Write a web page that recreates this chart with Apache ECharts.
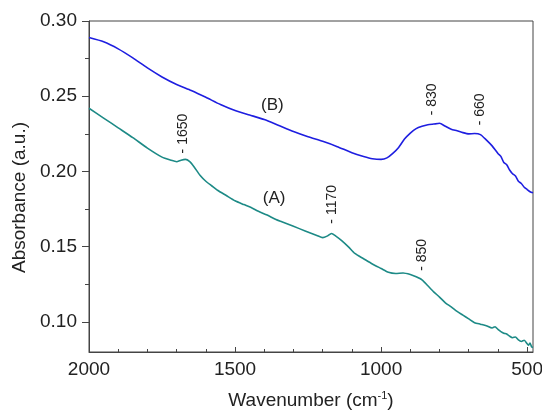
<!DOCTYPE html>
<html>
<head>
<meta charset="utf-8">
<script src="https://cdn.jsdelivr.net/npm/echarts@6/dist/echarts.min.js"></script>
<style>
  html, body { margin: 0; padding: 0; background: #fff; }
  #chart { width: 542px; height: 414px; }
</style>
</head>
<body>
<div id="chart"></div>
<script>
// spectrum (B)
var waveB = [2000, 1950, 1900, 1850, 1800, 1750, 1700, 1650, 1600, 1550, 1500, 1450, 1400, 1350, 1300,
  1250, 1200, 1150, 1100, 1060, 1030, 1000, 980, 960, 940, 920, 900, 880, 860, 840, 820, 800, 780,
  760, 740, 720, 700, 680, 660, 640, 620, 600, 590, 580, 570, 560, 550, 540, 530, 520, 510, 500, 490, 480]
var absB = [0.289, 0.2862, 0.2815, 0.2755, 0.2688, 0.2628, 0.2578, 0.2538, 0.2493, 0.2445, 0.2405, 0.2375, 0.2345, 0.2305, 0.2265,
  0.223, 0.220, 0.2165, 0.2125, 0.210, 0.2085, 0.208, 0.209, 0.212, 0.216, 0.2215, 0.2255, 0.2285, 0.230, 0.231, 0.2315, 0.232, 0.230,
  0.228, 0.227, 0.2258, 0.225, 0.2252, 0.2245, 0.221, 0.217, 0.212, 0.210, 0.206, 0.2045, 0.201, 0.1985, 0.197, 0.1935, 0.192, 0.1895, 0.188, 0.1865, 0.1858]

// spectrum (A)
var waveA = [2000, 1950, 1900, 1850, 1800, 1750, 1720, 1700, 1685, 1670, 1655, 1640, 1620, 1600, 1580, 1560, 1530,
  1500, 1470, 1445, 1420, 1390, 1360, 1340, 1300, 1260, 1220, 1200, 1185, 1170, 1155, 1135, 1110, 1090, 1060,
  1030, 1000, 975, 950, 925, 900, 880, 860, 840, 820, 800, 780, 760, 740, 720, 700, 680, 660, 640, 620, 610,
  600, 590, 580, 570, 560, 550, 540, 530, 520, 510, 500, 495, 490, 485, 480]
var absA = [0.242, 0.2355, 0.229, 0.2225, 0.2155, 0.2095, 0.2075, 0.2065, 0.2075, 0.208, 0.2065, 0.203, 0.1975, 0.1935, 0.1905, 0.1875, 0.184,
  0.1805, 0.178, 0.176, 0.1735, 0.171, 0.168, 0.1665, 0.1635, 0.1605, 0.1575, 0.156, 0.157, 0.1588, 0.157, 0.154, 0.1495, 0.1455, 0.142,
  0.1385, 0.1355, 0.133, 0.1322, 0.1325, 0.1315, 0.130, 0.128, 0.124, 0.120, 0.1165, 0.1127, 0.110, 0.107, 0.1045, 0.102, 0.0995, 0.0985, 0.0975, 0.096, 0.0968,
  0.095, 0.0935, 0.0925, 0.092, 0.0905, 0.0895, 0.090, 0.088, 0.087, 0.0878, 0.0855, 0.0845, 0.086, 0.0835, 0.083]

// peak annotations
var peakText = ['- 1650', '- 1170', '- 850', '- 830', '- 660']
var peakWave = [1679, 1169, 859, 824, 662]
var peakAbs = [0.212, 0.1653, 0.134, 0.2373, 0.2307]
var peakSeries = [0, 0, 0, 1, 1]

// curve names
var curveText = ['(A)', '(B)']
var curveWave = [1366, 1372]
var curveAbs = [0.182, 0.244]

var xLabels = [500, 1000, 1500, 2000]
var xMinor = [600, 700, 800, 900, 1100, 1200, 1300, 1400, 1600, 1700, 1800, 1900]
var yLabels = [0.10, 0.15, 0.20, 0.25, 0.30]
var yMinor = [0.125, 0.175, 0.225, 0.275]

function pairs(xs, ys) {
  return xs.map(function (x, i) { return [x, ys[i]] })
}

function marks(s) {
  var out = []
  peakText.forEach(function (t, i) {
    if (peakSeries[i] !== s) return
    out.push({
      coord: [peakWave[i], peakAbs[i]],
      label: { formatter: t, rotate: 90, align: 'left', verticalAlign: 'middle', fontSize: 14 }
    })
  })
  out.push({
    coord: [curveWave[s], curveAbs[s]],
    label: { formatter: curveText[s], rotate: 0, align: 'center', verticalAlign: 'middle', fontSize: 17 }
  })
  return out
}

var font = 'Liberation Sans, Arial, sans-serif'
var axisColor = '#444'

var chart = echarts.init(document.getElementById('chart'), null, { renderer: 'canvas' })

var xBase = {
  type: 'value', inverse: true, min: 480, max: 2000, gridIndex: 0, position: 'bottom',
  splitLine: { show: false }
}
var yBase = {
  type: 'value', min: 0.08, max: 0.30, gridIndex: 0, position: 'left',
  splitLine: { show: false }
}

chart.setOption({
  animation: false,
  backgroundColor: '#fff',
  grid: {
    left: 89, top: 21, right: 9, bottom: 62, outerBoundsMode: 'none', containLabel: false,
    show: true, borderColor: axisColor, borderWidth: 1, backgroundColor: 'transparent'
  },
  xAxis: [
    Object.assign({}, xBase, {
      name: 'Wavenumber (cm{sup|-1})',
      nameLocation: 'middle',
      nameGap: 38,
      nameTextStyle: {
        fontFamily: font, fontSize: 19, color: '#222',
        rich: { sup: { fontFamily: font, fontSize: 11, verticalAlign: 'top', padding: [0, 0, 10, 0], color: '#222' } }
      },
      axisLine: { show: true, lineStyle: { color: axisColor, width: 1 } },
      axisTick: { show: true, inside: true, length: 5, customValues: xLabels, lineStyle: { color: axisColor } },
      axisLabel: {
        show: true, customValues: xLabels, margin: 8, fontFamily: font, fontSize: 19, color: '#222',
        showMinLabel: true, showMaxLabel: true, hideOverlap: false,
        formatter: function (v) { return String(v) }
      }
    }),
    Object.assign({}, xBase, {
      axisLine: { show: false },
      axisTick: { show: true, inside: true, length: 3, customValues: xMinor, lineStyle: { color: axisColor } },
      axisLabel: { show: false }
    })
  ],
  yAxis: [
    Object.assign({}, yBase, {
      name: 'Absorbance (a.u.)',
      nameLocation: 'middle',
      nameGap: 58,
      nameRotate: 90,
      nameTextStyle: { fontFamily: font, fontSize: 19, color: '#222', padding: [0, 22, 0, 0] },
      axisLine: { show: true, lineStyle: { color: axisColor, width: 1 } },
      axisTick: { show: true, inside: false, length: 7, customValues: yLabels, lineStyle: { color: axisColor } },
      axisLabel: {
        show: true, customValues: yLabels, margin: 12, fontFamily: font, fontSize: 19, color: '#222',
        showMinLabel: true, showMaxLabel: true,
        formatter: function (v) { return v.toFixed(2) }
      }
    }),
    Object.assign({}, yBase, {
      axisLine: { show: false },
      axisTick: { show: true, inside: false, length: 4, customValues: yMinor, lineStyle: { color: axisColor } },
      axisLabel: { show: false }
    })
  ],
  series: [
    {
      name: 'A', type: 'line', xAxisIndex: 0, yAxisIndex: 0,
      data: pairs(waveA, absA),
      showSymbol: false, smooth: 0.2,
      lineStyle: { color: '#1d8a86', width: 1.6 },
      markPoint: {
        symbol: 'circle', symbolSize: 1, itemStyle: { color: 'transparent' },
        label: { show: true, position: 'inside', color: '#222', fontFamily: font },
        data: marks(0)
      }
    },
    {
      name: 'B', type: 'line', xAxisIndex: 0, yAxisIndex: 0,
      data: pairs(waveB, absB),
      showSymbol: false, smooth: 0.2,
      lineStyle: { color: '#1e1ee0', width: 1.6 },
      markPoint: {
        symbol: 'circle', symbolSize: 1, itemStyle: { color: 'transparent' },
        label: { show: true, position: 'inside', color: '#222', fontFamily: font },
        data: marks(1)
      }
    }
  ]
})
</script>
</body>
</html>
